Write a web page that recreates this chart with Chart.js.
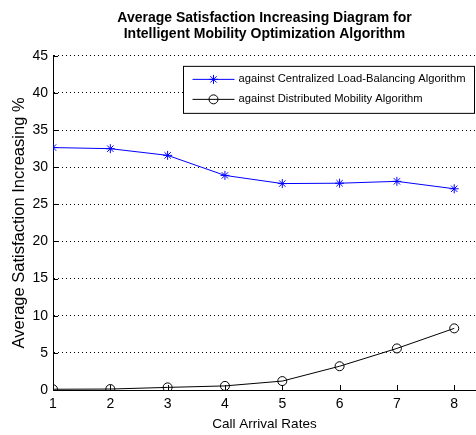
<!DOCTYPE html>
<html>
<head>
<meta charset="utf-8">
<script src="https://cdn.jsdelivr.net/npm/chart.js@4.4.0/dist/chart.umd.min.js"></script>
<style>
  html, body { margin:0; padding:0; background:#fff; }
  #wrap { width:476px; height:435px; }
</style>
</head>
<body>
<div id="wrap"><canvas id="chart-line"></canvas></div>
<script>
/*##################################################################
        Average Satisfaction Increasing Diagram (line chart)
##################################################################*/

// Data
var callRates       = [1, 2, 3, 4, 5, 6, 7, 8];
var centralizedGain = [32.65, 32.5, 31.6, 28.9, 27.8, 27.85, 28.1, 27.1];
var distributedGain = [0.1, 0.13, 0.35, 0.55, 1.2, 3.2, 5.6, 8.3];
var yTicks          = [0, 5, 10, 15, 20, 25, 30, 35, 40, 45];
var seriesNames     = ["against Centralized Load-Balancing Algorithm",
                       "against Distributed Mobility Algorithm"];

var FONT = "'Liberation Sans', Arial, sans-serif";

function toPoints(vals){
  return callRates.map(function(x, i){ return {x:x, y:vals[i]}; });
}

// small inward tick marks like matlab
var innerTicks = {
  id:"innerTicks",
  beforeDatasetsDraw:function(chart){
    var ctx = chart.ctx, xs = chart.scales.x, ys = chart.scales.y;
    var a = chart.chartArea;
    ctx.save();
    ctx.strokeStyle = "#000";
    ctx.lineWidth = 1;
    ctx.beginPath();
    callRates.forEach(function(v){
      var px = Math.round(xs.getPixelForValue(v)) + 0.5;
      ctx.moveTo(px, a.bottom);
      ctx.lineTo(px, a.bottom - 5);
    });
    yTicks.forEach(function(v){
      var py = Math.round(ys.getPixelForValue(v)) + 0.5;
      ctx.moveTo(a.left, py);
      ctx.lineTo(a.left + 5, py);
    });
    ctx.stroke();
    ctx.restore();
  }
};

// boxed legend inside the plot, top right
var boxLegend = {
  id:"boxLegend",
  afterDraw:function(chart){
    var ctx = chart.ctx, a = chart.chartArea;
    ctx.save();
    ctx.font = "11.2px " + FONT;
    var w = 0;
    chart.data.datasets.forEach(function(ds){ w = Math.max(w, ctx.measureText(ds.label).width); });
    var boxW = 9 + 42 + 4 + w + 10;
    var right = a.right - 1.5, top = a.top + 10.5;
    var left = Math.round(right - boxW) + 0.5, boxH = 47;
    ctx.fillStyle = "#fff";
    ctx.fillRect(left, top, right - left, boxH);
    ctx.strokeStyle = "#000";
    ctx.lineWidth = 1;
    ctx.strokeRect(left, top, right - left, boxH);
    chart.data.datasets.forEach(function(ds, i){
      var y = top + 13 + i * 20;
      var x0 = left + 9, x1 = x0 + 42;
      ctx.strokeStyle = ds.borderColor;
      ctx.lineWidth = ds.borderWidth;
      ctx.beginPath();
      ctx.moveTo(x0, y); ctx.lineTo(x1, y);
      ctx.stroke();
      ctx.fillStyle = ds.backgroundColor;
      ctx.strokeStyle = ds.pointBorderColor;
      Chart.helpers.drawPoint(ctx, {
        pointStyle:ds.pointStyle, radius:ds.pointRadius, rotation:0,
        borderWidth:ds.pointBorderWidth
      }, (x0 + x1) / 2, y);
      ctx.fillStyle = "#000";
      ctx.textBaseline = "middle";
      ctx.textAlign = "left";
      ctx.fillText(ds.label, x1 + 4, y);
    });
    ctx.restore();
  }
};

var htmlTag = document.getElementById("chart-line");
var configLine = {
  type:"line",
  data:{
    datasets:[{
      label:seriesNames[0],
      data:toPoints(centralizedGain),
      borderColor:"#0000ff",
      backgroundColor:"#0000ff",
      borderWidth:1,
      pointStyle:"star",
      pointRadius:4.5,
      pointBorderWidth:1,
      pointBorderColor:"#0000ff",
      tension:0
    },{
      label:seriesNames[1],
      data:toPoints(distributedGain),
      borderColor:"#000",
      backgroundColor:"rgba(0,0,0,0)",
      borderWidth:1,
      pointStyle:"circle",
      pointRadius:4.5,
      pointBorderWidth:1,
      pointBorderColor:"#000",
      tension:0
    }]
  },
  options:{
    responsive:true,
    maintainAspectRatio:false,
    animation:false,
    layout:{ padding:0, autoPadding:false },
    plugins:{
      legend:{ display:false },
      tooltip:{ enabled:false },
      title:{
        display:true,
        fullSize:false,
        text:["Average Satisfaction Increasing Diagram for",
              "Intelligent Mobility Optimization Algorithm"],
        color:"#000",
        font:{ family:FONT, size:14, weight:"bold", lineHeight:1.12 },
        padding:{ top:10.5, bottom:14 }
      }
    },
    scales:{
      x:{
        type:"linear",
        min:1, max:8.38,
        afterFit:function(s){ s.height = 45; },
        ticks:{
          stepSize:1, includeBounds:false, padding:6,
          color:"#000", font:{ family:FONT, size:14 }
        },
        grid:{ display:false, drawTicks:false },
        border:{ display:true, color:"#000", width:1 },
        title:{
          display:true, text:"Call Arrival Rates", color:"#000",
          font:{ family:FONT, size:13.5 }, padding:{ top:0, bottom:3 }
        }
      },
      y:{
        min:0, max:45,
        afterFit:function(s){ s.width = 53; },
        afterBuildTicks:function(s){ s.ticks = yTicks.map(function(v){ return {value:v}; }); },
        ticks:{ padding:5, color:"#000", font:{ family:FONT, size:14 } },
        grid:{ color:"#000", lineWidth:1, drawTicks:false },
        border:{ display:true, color:"#000", width:1, dash:[1,3] },
        title:{
          display:true, text:"Average Satisfaction Increasing %", color:"#000",
          font:{ family:FONT, size:16.5 }, padding:{ top:10, bottom:0 }
        }
      }
    }
  },
  plugins:[innerTicks, boxLegend]
};

var chartLine = new Chart(htmlTag, configLine);
</script>
</body>
</html>
